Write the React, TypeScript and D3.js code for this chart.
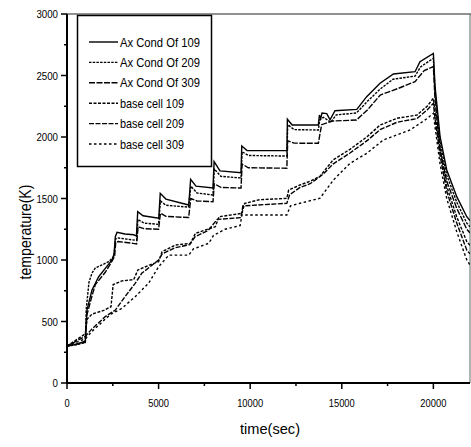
import React from 'react';
import * as d3 from 'd3';

// ---- data: [time (sec), temperature (K)] ----
const axCond109: [number, number][] = [
  [0,300],[500,315],[1000,340],[1090,593],[1365,756],[1730,864],[2090,932],[2457,1000],[2570,1050],[2640,1190],[2730,1225],[3170,1211],[3640,1205],[3790,1195],[3860,1393],[4150,1360],[5010,1339],[5090,1542],[5400,1495],[6645,1447],[6750,1656],[7040,1600],[7970,1585],[8030,1800],[8350,1725],[9500,1710],[9540,1927],[9830,1890],[12010,1889],[12030,2144],[12290,2097],[13720,2097],[13780,2179],[13850,2150],[13920,2195],[14180,2190],[14360,2140],[14630,2214],[15820,2225],[16360,2328],[17090,2437],[17820,2512],[19000,2531],[19270,2612],[20000,2680],[20093,2409],[20366,2002],[20730,1732],[21277,1515],[21825,1352],[22000,1320]
];
const axCond209: [number, number][] = [
  [0,300],[500,310],[1000,330],[1050,600],[1200,820],[1365,894],[1545,935],[1910,960],[2275,986],[2560,1030],[2650,1170],[2750,1180],[3500,1165],[3800,1160],[3870,1330],[4200,1300],[5000,1290],[5100,1480],[5400,1445],[6640,1430],[6760,1600],[7100,1545],[7970,1528],[8040,1740],[8400,1680],[9500,1667],[9560,1880],[9900,1850],[12000,1845],[12050,2100],[12400,2060],[13720,2057],[13800,2140],[14000,2160],[14400,2120],[14700,2180],[15800,2195],[16400,2290],[17100,2390],[17800,2470],[19000,2495],[19300,2570],[20000,2640],[20093,2360],[20366,1960],[20730,1690],[21277,1470],[21825,1300],[22000,1270]
];
const axCond309: [number, number][] = [
  [0,300],[1000,330],[1080,550],[1350,700],[1545,800],[2090,900],[2457,990],[2600,1030],[2660,1145],[2800,1150],[3600,1135],[3800,1130],[3880,1270],[4200,1255],[5000,1250],[5100,1380],[5400,1355],[6640,1345],[6760,1500],[7100,1480],[7970,1474],[8040,1620],[8400,1590],[9500,1585],[9560,1780],[9900,1750],[12000,1746],[12050,1970],[12400,1950],[13720,1949],[13900,2100],[14500,2130],[15800,2138],[16400,2220],[17100,2341],[18100,2396],[19000,2450],[19500,2540],[20000,2572],[20093,2300],[20366,1900],[20730,1640],[21277,1420],[21825,1250],[22000,1220]
];
const baseCell109: [number, number][] = [
  [0,300],[1000,400],[1100,520],[1365,560],[2000,590],[2400,620],[2520,800],[3000,830],[3640,840],[3870,919],[4500,959],[5000,986],[5190,1067],[5920,1122],[6740,1136],[7010,1217],[8100,1271],[8300,1352],[9550,1379],[9700,1460],[10500,1490],[12000,1501],[12100,1569],[12720,1610],[13270,1640],[13810,1680],[14520,1813],[15450,1900],[16380,2002],[17090,2097],[18020,2152],[19110,2179],[19660,2250],[20000,2315],[20093,2200],[20366,1900],[20730,1600],[21277,1350],[21825,1150],[22000,1120]
];
const baseCell209: [number, number][] = [
  [0,300],[1000,380],[1365,440],[1730,490],[2090,540],[2640,593],[3170,702],[3720,810],[4080,892],[5000,1000],[5200,1050],[5900,1100],[6700,1125],[7000,1190],[7700,1240],[8200,1330],[9500,1345],[9600,1440],[12000,1461],[12150,1530],[12720,1590],[13270,1620],[14000,1700],[14520,1780],[15450,1870],[16380,1970],[17090,2060],[18020,2120],[19110,2150],[19660,2220],[20000,2274],[20093,2150],[20366,1850],[20730,1560],[21277,1300],[21825,1080],[22000,1050]
];
const baseCell309: [number, number][] = [
  [0,300],[1000,360],[1365,420],[1730,470],[2090,520],[2400,560],[3000,607],[3720,702],[4450,810],[5000,945],[5560,1040],[6650,1040],[6900,1090],[7740,1136],[8000,1200],[8630,1250],[9450,1280],[9550,1366],[12000,1366],[12200,1440],[12720,1461],[13810,1502],[14540,1650],[15450,1786],[16360,1867],[17270,1976],[18730,2057],[19660,2150],[20000,2193],[20093,2080],[20366,1780],[20730,1500],[21277,1230],[21825,1000],[22000,960]
];

const seriesNames = ['Ax Cond Of 109','Ax Cond Of 209','Ax Cond Of 309','base cell 109','base cell 209','base cell 309'];
const seriesData = [axCond109, axCond209, axCond309, baseCell109, baseCell209, baseCell309];
const seriesDash = ['none','2.5,1.2','6,1.5','3,1.5','5,1.5','2.5,2.5'];

const yMajorTicks = [0,500,1000,1500,2000,2500,3000];
const yMinorTicks = [250,750,1250,1750,2250,2750];
const xMajorTicks = [0,5000,10000,15000,20000];
const xMinorTicks = [2500,7500,12500,17500];

const W = 471, H = 447;
const PL = 67, PR = 470, PT = 14, PB = 383;

export default function App() {
  const x = d3.scaleLinear().domain([0, 22000]).range([PL, PR]);
  const y = d3.scaleLinear().domain([0, 3000]).range([PB, PT]);
  const line = d3.line<[number, number]>().x(d => x(d[0])).y(d => y(d[1]));
  const font = 'Arial, "Liberation Sans", sans-serif';

  return (
    <svg width={W} height={H} style={{ position: 'absolute', left: 0, top: 0, background: '#fff' }} fontFamily={font}>
      <defs>
        <clipPath id="plot"><rect x={PL} y={PT} width={PR - PL} height={PB - PT} /></clipPath>
      </defs>
      <rect x={0} y={0} width={W} height={H} fill="#fff" />
      {/* frame */}
      <line x1={PL} x2={W} y1={PT} y2={PT} stroke="#222" strokeWidth={1} />
      <line x1={PR} x2={PR} y1={PT} y2={PB} stroke="#666" strokeWidth={1} />
      {/* series */}
      <g clipPath="url(#plot)">
        {seriesData.map((s, i) => (
          <path key={i} d={line(s) || ''} fill="none" stroke="#000" strokeWidth={1.4}
            strokeDasharray={seriesDash[i]} />
        ))}
      </g>
      {/* axes */}
      <line x1={PL} x2={PL} y1={PT} y2={PB + 1} stroke="#000" strokeWidth={2} />
      <line x1={PL - 1} x2={PR} y1={PB} y2={PB} stroke="#000" strokeWidth={2} />
      {yMajorTicks.map(t => (
        <g key={'ym' + t}>
          <line x1={PL - 6} x2={PL} y1={y(t)} y2={y(t)} stroke="#000" strokeWidth={1.5} />
          <text x={58} y={y(t) + 4} fontSize={11.5} textAnchor="end" textLength={String(t).length * 5.4} lengthAdjust="spacingAndGlyphs">{t}</text>
        </g>
      ))}
      {yMinorTicks.map(t => (
        <line key={'yn' + t} x1={PL - 3} x2={PL} y1={y(t)} y2={y(t)} stroke="#000" strokeWidth={1.5} />
      ))}
      {xMajorTicks.map(t => (
        <g key={'xm' + t}>
          <line x1={x(t)} x2={x(t)} y1={PB} y2={PB + 6} stroke="#000" strokeWidth={1.5} />
          <text x={x(t)} y={407} fontSize={11.5} textAnchor="middle" textLength={String(t).length * 5.2} lengthAdjust="spacingAndGlyphs">{t}</text>
        </g>
      ))}
      {xMinorTicks.map(t => (
        <line key={'xn' + t} x1={x(t)} x2={x(t)} y1={PB} y2={PB + 3} stroke="#000" strokeWidth={1.5} />
      ))}
      {/* axis titles */}
      <text x={270} y={434} fontSize={15} textAnchor="middle" textLength={60} lengthAdjust="spacingAndGlyphs">time(sec)</text>
      <text transform="translate(31,232) rotate(-90)" fontSize={17} textAnchor="middle" textLength={95} lengthAdjust="spacingAndGlyphs">temperature(K)</text>
      {/* legend */}
      <rect x={77.5} y={15.5} width={134} height={151} fill="#fff" stroke="#000" strokeWidth={1.5} />
      {seriesNames.map((n, i) => {
        const cy = 42 + i * 20.4;
        return (
          <g key={n}>
            <line x1={89} x2={118} y1={cy} y2={cy} stroke="#000" strokeWidth={1.4} strokeDasharray={seriesDash[i]} />
            <text x={120} y={cy + 4.5} fontSize={13} textLength={i < 3 ? 80 : 64} lengthAdjust="spacingAndGlyphs">{n}</text>
          </g>
        );
      })}
    </svg>
  );
}
